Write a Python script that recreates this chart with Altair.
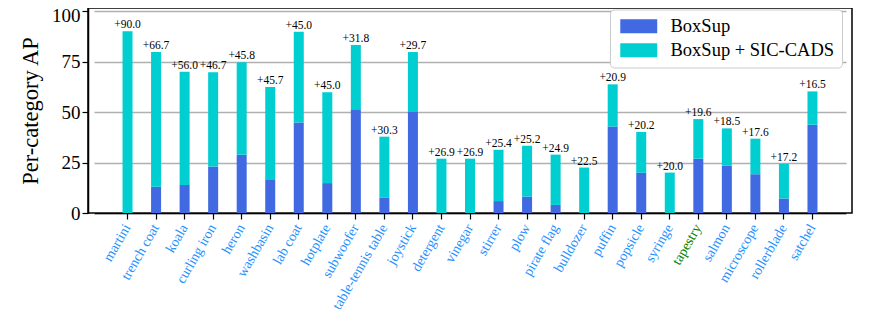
import altair as alt
import pandas as pd

categories = ["martini", "trench coat", "koala", "curling iron", "heron", "washbasin",
              "lab coat", "hotplate", "subwoofer", "table-tennis table", "joystick",
              "detergent", "vinegar", "stirrer", "plow", "pirate flag", "bulldozer",
              "puffin", "popsicle", "syringe", "tapestry", "salmon", "microscope",
              "rollerblade", "satchel"]
boxsup = [0.0, 13.0, 13.9, 23.0, 28.8, 16.7, 44.8, 14.8, 51.4, 7.5, 50.0,
          0.0, 0.0, 5.9, 8.1, 4.0, 0.0, 42.8, 19.9, 0.0, 26.9, 23.4, 19.2, 7.2, 43.7]
gain = [90.0, 66.7, 56.0, 46.7, 45.8, 45.7, 45.0, 45.0, 31.8, 30.3, 29.7,
        26.9, 26.9, 25.4, 25.2, 24.9, 22.5, 20.9, 20.2, 20.0, 19.6, 18.5, 17.6, 17.2, 16.5]
series = ["BoxSup", "BoxSup + SIC-CADS"]
colors = ["#4169E1", "#00CED1"]

rows = []
for c, b, g in zip(categories, boxsup, gain):
    rows.append({"cat": c, "series": series[0], "y0": 0.0, "y1": b})
    rows.append({"cat": c, "series": series[1], "y0": b, "y1": round(b + g, 1)})
bars_df = pd.DataFrame(rows)
lab_df = pd.DataFrame({"cat": categories,
                       "top": [round(b + g, 1) for b, g in zip(boxsup, gain)],
                       "label": ["+%.1f" % g for g in gain]})

FONT = "Liberation Serif, Times New Roman, DejaVu Serif, serif"

xscale = alt.Scale(paddingInner=0.65, paddingOuter=1, range=[6, 758])
xenc = alt.X("cat:N", sort=categories, scale=xscale,
             axis=alt.Axis(title=None, labelAngle=-60, labelAlign="right",
                           labelBaseline="middle", labelFontSize=14, labelFont=FONT,
                           labelColor=alt.condition("datum.value == 'tapestry'",
                                                    alt.value("#008000"), alt.value("#1E90FF")),
                           labelPadding=6, tickSize=6, tickColor="black",
                           domainColor="black", domainWidth=1.5, tickWidth=1.2,
                           grid=False, labelOverlap=False, labelLimit=300))
yscale = alt.Scale(domain=[0, 101.5], nice=False)

bars = alt.Chart(bars_df).mark_bar(size=10).encode(
    x=xenc,
    y=alt.Y("y0:Q", scale=yscale,
            axis=alt.Axis(title="Per-category AP", values=[0, 25, 50, 75, 100],
                          titleFontSize=22.5, titleFont=FONT, titleFontWeight="normal",
                          titleColor="black", titlePadding=9,
                          labelFontSize=19, labelFont=FONT, labelColor="black",
                          labelOffset=alt.condition("datum.value == 100",
                                                    alt.value(4), alt.value(0)),
                          tickSize=6, tickColor="black", tickWidth=1.2,
                          domainColor="black", domainWidth=1.5,
                          grid=True, gridColor="#b0b0b0", gridWidth=1.5)),
    y2="y1:Q",
    color=alt.Color("series:N", scale=alt.Scale(domain=series, range=colors),
                    legend=alt.Legend(title=None, orient="none", legendX=522, legendY=1.5,
                                      symbolType="M-2.64,-1L2.64,-1L2.64,1L-2.64,1Z",
                                      symbolSize=196, symbolStrokeWidth=0,
                                      symbolOffset=12,
                                      labelFont=FONT, labelFontSize=18.5, labelColor="black",
                                      labelOffset=22.5, padding=7.5, rowPadding=5,
                                      fillColor="white", strokeColor="#cccccc",
                                      cornerRadius=4, labelLimit=300)),
)

texts = alt.Chart(lab_df).mark_text(baseline="bottom", dy=-1, fontSize=11.5, font=FONT,
                                    color="black").encode(
    x=alt.X("cat:N", sort=categories, scale=xscale),
    y=alt.Y("top:Q", scale=yscale),
    text="label:N",
)

chart = alt.layer(bars, texts).properties(
    width=764, height=205,
    autosize=alt.AutoSizeParams(type="none"),
    padding={"left": 80, "top": 0, "right": 12, "bottom": 96},
).configure_view(stroke="black", strokeWidth=1.5)

chart.save("out.html", embed_options={"renderer": "svg", "actions": False})
